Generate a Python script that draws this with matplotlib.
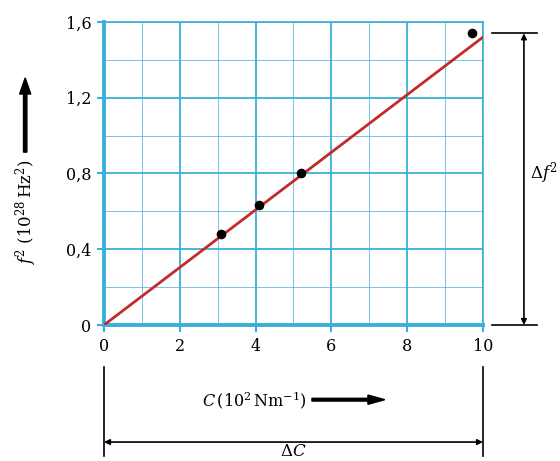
import matplotlib
matplotlib.use("Agg")
import matplotlib.pyplot as plt
import numpy as np

C_vals = [3.1, 4.1, 5.2, 9.7]
f2_vals = [0.48, 0.635, 0.805, 1.54]
fit_x = [0, 10]
fit_y = [0, 1.52]
xticks = [0, 2, 4, 6, 8, 10]
yticks = [0, 0.4, 0.8, 1.2, 1.6]
ytick_labels = ["0", "0,4", "0,8", "1,2", "1,6"]

plt.rcParams['font.family'] = ['DejaVu Serif']
plt.rcParams['mathtext.fontset'] = 'dejavuserif'

blue = '#3aafd9'
fig = plt.figure(figsize=(5.6, 4.61), dpi=100)
ax = fig.add_axes([0.1857, 0.295, 0.6768, 0.6573])
ax.set_xlim(0, 10)
ax.set_ylim(0, 1.6)

ax.set_xticks(xticks)
ax.set_yticks(yticks)
ax.set_yticklabels(ytick_labels)
ax.set_xticks(np.arange(0, 11, 1), minor=True)
ax.set_yticks(np.arange(0, 1.61, 0.2), minor=True)
ax.grid(which='major', color=blue, lw=1.3)
ax.grid(which='minor', color=blue, lw=0.7, alpha=0.7)
ax.tick_params(which='major', length=5, color=blue, width=1.5, labelsize=11.5, pad=4)
ax.tick_params(which='minor', length=0)
for s in ['left', 'bottom']:
    ax.spines[s].set_color(blue)
    ax.spines[s].set_linewidth(2.8)
for s in ['top', 'right']:
    ax.spines[s].set_color(blue)
    ax.spines[s].set_linewidth(1.2)

ax.plot(fit_x, fit_y, color='#c42a2a', lw=2, zorder=3)
ax.scatter(C_vals, f2_vals, s=35, color='black', zorder=4, clip_on=False)

# Delta f^2 annotation
kw = dict(clip_on=False, color='black', lw=1.2)
ax.plot([10.24, 11.42], [f2_vals[-1], f2_vals[-1]], **kw)
ax.plot([10.24, 11.42], [0, 0], **kw)
ax.annotate('', xy=(11.08, f2_vals[-1]), xytext=(11.08, 0),
            arrowprops=dict(arrowstyle='<|-|>', color='black', lw=1.2,
                            mutation_scale=8, shrinkA=0, shrinkB=0),
            annotation_clip=False)
ax.text(11.25, 0.8, r'$\Delta f^2$', fontsize=12, ha='left', va='center', clip_on=False)

# Delta C annotation
ax.plot([0, 0], [-0.222, -0.69], **kw)
ax.plot([10, 10], [-0.222, -0.69], **kw)
ax.annotate('', xy=(0, -0.618), xytext=(10, -0.618),
            arrowprops=dict(arrowstyle='<|-|>', color='black', lw=1.2,
                            mutation_scale=8, shrinkA=0, shrinkB=0),
            annotation_clip=False)
ax.text(5, -0.714, r'$\Delta C$', fontsize=12, ha='center', va='bottom', clip_on=False)

# axis labels with arrows
fig.text(0.455, 0.133, r'$C\,(10^2\,\mathrm{Nm^{-1}})$', fontsize=11.5, ha='center', va='center')
fig.patches.append(matplotlib.patches.FancyArrow(0.557, 0.133, 0.13, 0, width=0.006,
                   head_width=0.02, head_length=0.03, length_includes_head=True,
                   color='black', transform=fig.transFigure, figure=fig))
fig.text(0.047, 0.54, r'$f^2\ (10^{28}\,\mathrm{Hz}^2)$', fontsize=12, ha='center', va='center',
         rotation=90)
fig.patches.append(matplotlib.patches.FancyArrow(0.045, 0.67, 0, 0.161, width=0.006,
                   head_width=0.02, head_length=0.035, length_includes_head=True,
                   color='black', transform=fig.transFigure, figure=fig))

fig.savefig('out.png', dpi=100)
